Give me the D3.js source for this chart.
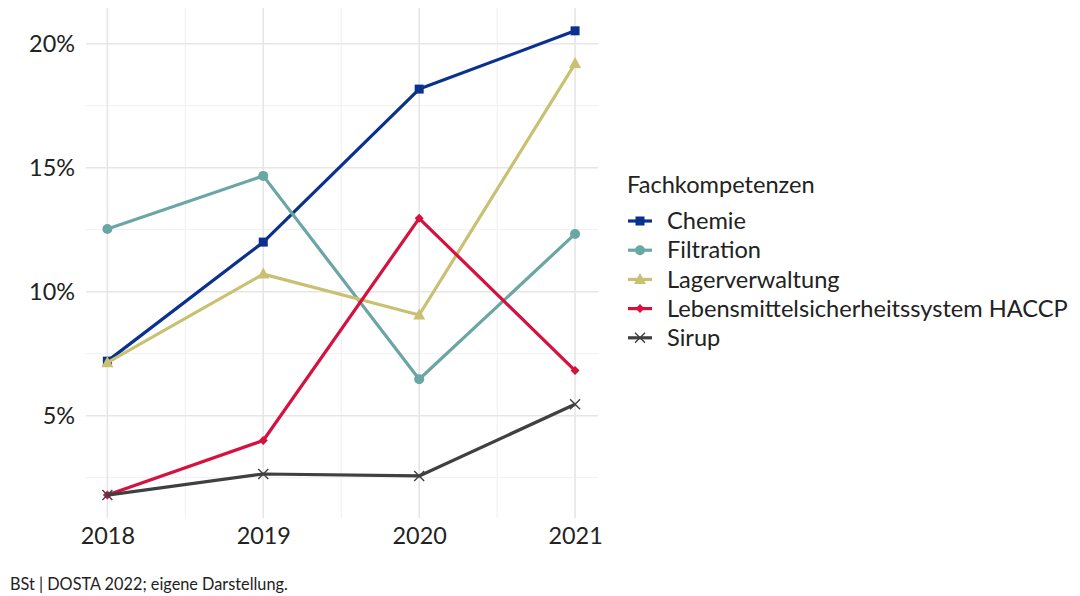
<!DOCTYPE html>
<html>
<head>
<meta charset="utf-8">
<script src="https://cdn.jsdelivr.net/npm/d3@7"></script>
<style>
  body { margin: 0; background: #fff; }
  svg { font-family: Lato, "Open Sans", sans-serif; }
</style>
</head>
<body>
<div id="chart"></div>
<script>
// data (share in %)
const years = [2018, 2019, 2020, 2021];
const seriesNames = ["Chemie", "Filtration", "Lagerverwaltung", "Lebensmittelsicherheitssystem HACCP", "Sirup"];
const chemie = [7.2, 12.0, 18.17, 20.52];
const filtration = [12.53, 14.67, 6.47, 12.33];
const lagerverwaltung = [7.14, 10.71, 9.06, 19.2];
const haccp = [1.8, 4.0, 12.96, 6.82];
const sirup = [1.8, 2.65, 2.57, 5.46];
const yTicks = [5, 10, 15, 20];
const yMinor = [2.5, 7.5, 12.5, 17.5];
const xMinor = [2018.5, 2019.5, 2020.5];

const colors = ["#0b318f", "#6aa6a3", "#c9c072", "#d5113f", "#404040"];
const shapes = ["square", "circle", "triangle", "diamond", "cross"];
const values = [chemie, filtration, lagerverwaltung, haccp, sirup];

const width = 1080, height = 596;
const panel = { left: 86, right: 598, top: 8, bottom: 518 };

const svg = d3.select("#chart").append("svg")
    .attr("width", width)
    .attr("height", height);

const x = d3.scaleLinear()
    .domain([2018 - 0.137, 2021 + 0.147])
    .range([panel.left, panel.right]);

const y = d3.scaleLinear()
    .domain([0.875, 21.44])
    .range([panel.bottom, panel.top]);

// grid
const grid = svg.append("g");
grid.selectAll(".ymin").data(yMinor).enter().append("line")
    .attr("x1", panel.left).attr("x2", panel.right)
    .attr("y1", d => y(d)).attr("y2", d => y(d))
    .attr("stroke", "#f0f0f0").attr("stroke-width", 1);
grid.selectAll(".xmin").data(xMinor).enter().append("line")
    .attr("y1", panel.top).attr("y2", panel.bottom)
    .attr("x1", d => x(d)).attr("x2", d => x(d))
    .attr("stroke", "#f0f0f0").attr("stroke-width", 1);
grid.selectAll(".ymaj").data(yTicks).enter().append("line")
    .attr("x1", panel.left).attr("x2", panel.right)
    .attr("y1", d => y(d)).attr("y2", d => y(d))
    .attr("stroke", "#e6e6e6").attr("stroke-width", 1.6);
grid.selectAll(".xmaj").data(years).enter().append("line")
    .attr("y1", panel.top).attr("y2", panel.bottom)
    .attr("x1", d => x(d)).attr("x2", d => x(d))
    .attr("stroke", "#e6e6e6").attr("stroke-width", 1.6);

// axes (text only)
const yAxis = svg.append("g")
    .attr("transform", `translate(${panel.left - 5},0)`)
    .call(d3.axisLeft(y).tickValues(yTicks).tickFormat(d => d + "%").tickSize(0).tickPadding(6));
const xAxis = svg.append("g")
    .attr("transform", `translate(0,${panel.bottom})`)
    .call(d3.axisBottom(x).tickValues(years).tickFormat(d3.format("d")).tickSize(0).tickPadding(9));
[yAxis, xAxis].forEach(a => {
    a.select(".domain").remove();
    a.selectAll("text").style("font-size", "23.4px").attr("fill", "#222")
        .style("font-family", "Lato, sans-serif");
});

// symbol drawing
function drawSymbol(g, shape, color) {
    if (shape === "square") {
        g.append("rect").attr("x", -4.5).attr("y", -4.5).attr("width", 9).attr("height", 9).attr("fill", color);
    } else if (shape === "circle") {
        g.append("circle").attr("r", 5).attr("fill", color);
    } else if (shape === "triangle") {
        g.append("path").attr("d", "M0,-6.5L6,4.5L-6,4.5Z").attr("fill", color);
    } else if (shape === "diamond") {
        g.append("path").attr("d", "M0,-4.5L4.5,0L0,4.5L-4.5,0Z").attr("fill", color);
    } else {
        g.append("path").attr("d", "M-5,-5L5,5M-5,5L5,-5").attr("stroke", color).attr("stroke-width", 1.4);
    }
}

const line = d3.line().x((d, i) => x(years[i])).y(d => y(d));

values.forEach((vals, k) => {
    const g = svg.append("g");
    g.append("path")
        .datum(vals)
        .attr("d", line)
        .attr("fill", "none")
        .attr("stroke", colors[k])
        .attr("stroke-width", 3.2)
        .attr("stroke-linejoin", "round");
    vals.forEach((v, i) => {
        const p = g.append("g").attr("transform", `translate(${x(years[i])},${y(v)})`);
        drawSymbol(p, shapes[k], colors[k]);
    });
});

// legend
const legend = svg.append("g").attr("transform", "translate(627,0)");
legend.append("text")
    .attr("x", 0).attr("y", 193)
    .style("font-size", "23.6px").attr("fill", "#222")
    .text("Fachkompetenzen");
seriesNames.forEach((name, k) => {
    const ly = 221 + k * 29.2;
    const item = legend.append("g").attr("transform", `translate(0,${ly})`);
    item.append("line").attr("x1", 1).attr("x2", 25).attr("y1", 0).attr("y2", 0)
        .attr("stroke", colors[k]).attr("stroke-width", 3.2);
    const s = item.append("g").attr("transform", "translate(13,0)");
    drawSymbol(s, shapes[k], colors[k]);
    item.append("text").attr("x", 40).attr("y", 0).attr("dy", "0.35em")
        .style("font-size", "23.6px").attr("fill", "#222")
        .text(name);
});

// caption
svg.append("text")
    .attr("x", 10).attr("y", 590)
    .style("font-size", "16.3px").attr("fill", "#222")
    .text("BSt | DOSTA 2022; eigene Darstellung.");
</script>
</body>
</html>
